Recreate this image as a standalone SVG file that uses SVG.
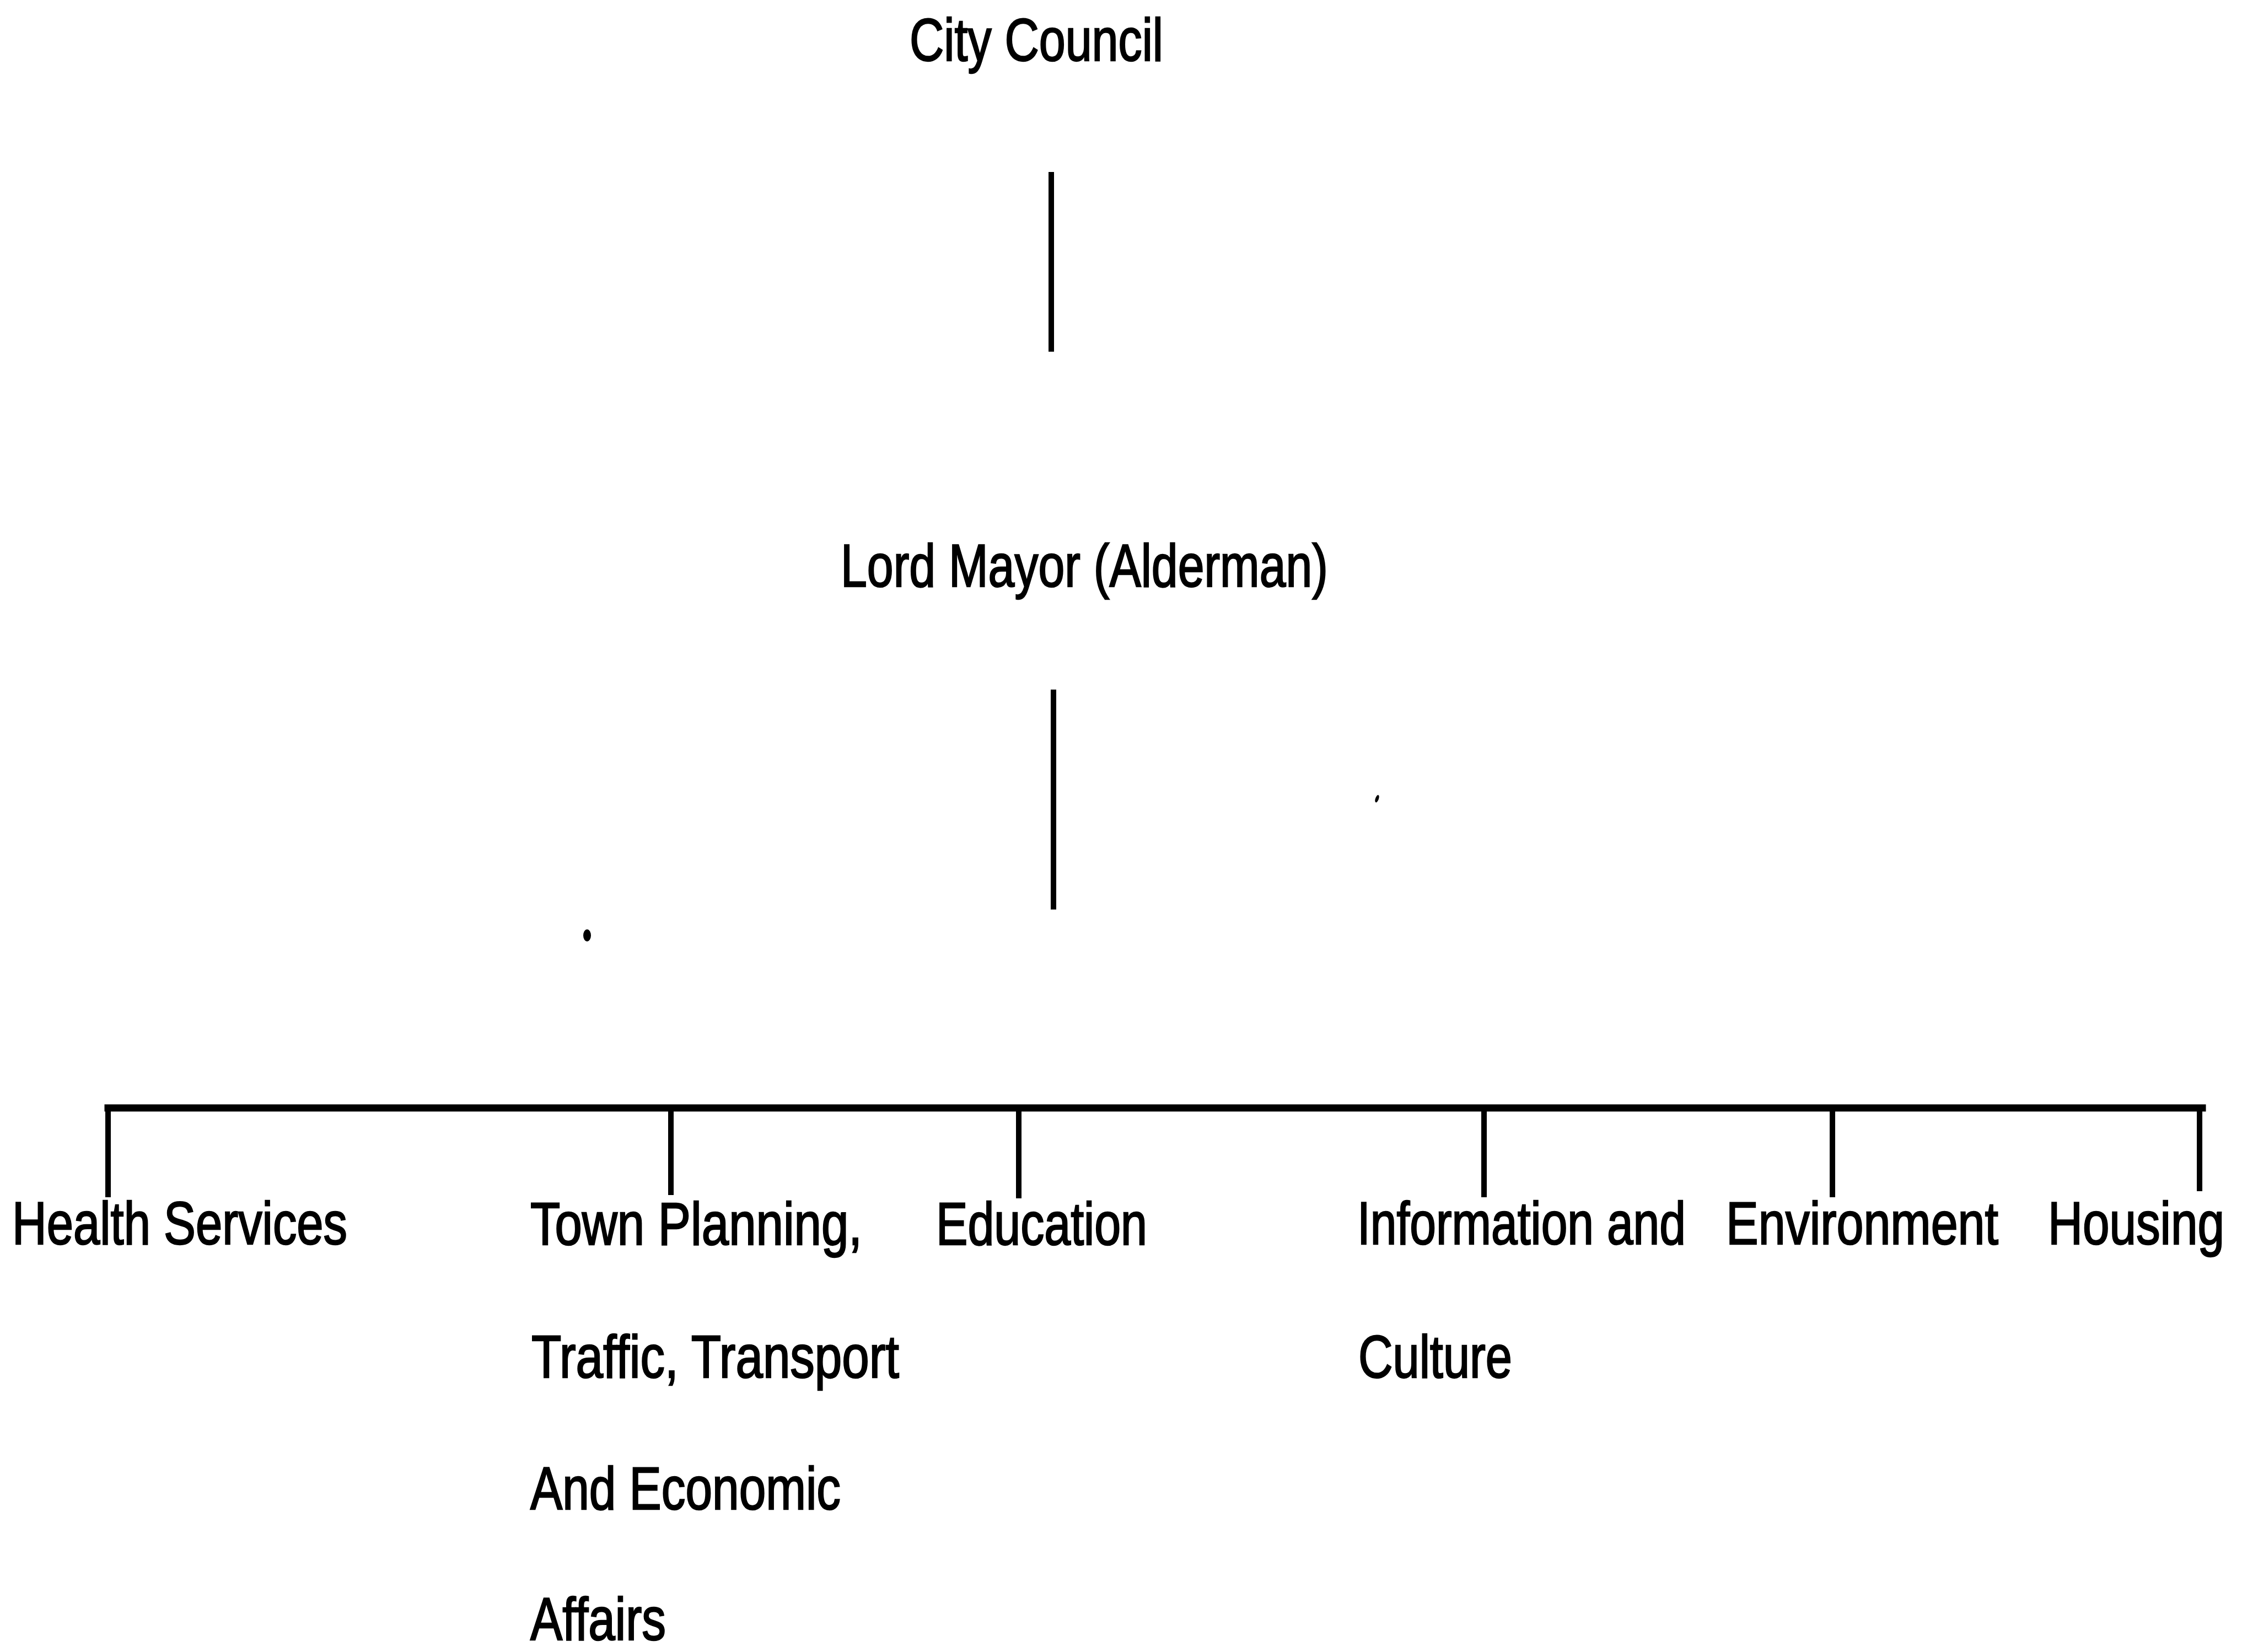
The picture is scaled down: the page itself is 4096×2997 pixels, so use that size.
<svg xmlns="http://www.w3.org/2000/svg" width="4096" height="2997" viewBox="0 0 4096 2997">
<style>
  .lbl { font-family: "Liberation Sans", Arial, sans-serif; font-size: 110px; fill: #000; stroke: #000; stroke-width: 2.5; }
  .ln { stroke: #000; stroke-width: 10; fill: none; stroke-linecap: butt; }
  .bar { stroke: #000; stroke-width: 13; fill: none; stroke-linecap: square; }
</style>
<rect x="0" y="0" width="4096" height="2997" fill="#fff"/>
<g id="connectors">
  <line class="ln" x1="1907" y1="312" x2="1907" y2="638"/>
  <line class="ln" x1="1911" y1="1251" x2="1911" y2="1650"/>
  <line class="bar" x1="196" y1="2010" x2="3995" y2="2010"/>
  <line class="ln" x1="196" y1="2010" x2="196" y2="2172"/>
  <line class="ln" x1="1217" y1="2010" x2="1217" y2="2168"/>
  <line class="ln" x1="1848" y1="2010" x2="1848" y2="2174"/>
  <line class="ln" x1="2692" y1="2010" x2="2692" y2="2172"/>
  <line class="ln" x1="3324" y1="2010" x2="3324" y2="2172"/>
  <line class="ln" x1="3990" y1="2010" x2="3990" y2="2161"/>
</g>
<g id="city-council">
  <text class="lbl" x="1650" y="110" textLength="460" lengthAdjust="spacingAndGlyphs">City Council</text>
</g>
<g id="lord-mayor">
  <text class="lbl" x="1525" y="1064" textLength="884" lengthAdjust="spacingAndGlyphs">Lord Mayor (Alderman)</text>
</g>
<g id="health-services">
  <text class="lbl" x="22" y="2257" textLength="608" lengthAdjust="spacingAndGlyphs">Health Services</text>
</g>
<g id="town-planning">
  <text class="lbl" x="962" y="2258" textLength="602" lengthAdjust="spacingAndGlyphs">Town Planning,</text>
  <text class="lbl" x="964" y="2499" textLength="667" lengthAdjust="spacingAndGlyphs">Traffic, Transport</text>
  <text class="lbl" x="962" y="2738" textLength="563" lengthAdjust="spacingAndGlyphs">And Economic</text>
  <text class="lbl" x="962" y="2975" textLength="246" lengthAdjust="spacingAndGlyphs">Affairs</text>
</g>
<g id="education">
  <text class="lbl" x="1698" y="2258" textLength="383" lengthAdjust="spacingAndGlyphs">Education</text>
</g>
<g id="information-culture">
  <text class="lbl" x="2462" y="2257" textLength="596" lengthAdjust="spacingAndGlyphs">Information and</text>
  <text class="lbl" x="2464" y="2499" textLength="279" lengthAdjust="spacingAndGlyphs">Culture</text>
</g>
<g id="environment">
  <text class="lbl" x="3131" y="2257" textLength="494" lengthAdjust="spacingAndGlyphs">Environment</text>
</g>
<g id="housing">
  <text class="lbl" x="3715" y="2257" textLength="320" lengthAdjust="spacingAndGlyphs">Housing</text>
</g>
<ellipse cx="1065" cy="1697" rx="7" ry="11" fill="#000"/>
<ellipse cx="2498" cy="1449" rx="3" ry="7" fill="#000" transform="rotate(20 2498 1449)"/>
</svg>
